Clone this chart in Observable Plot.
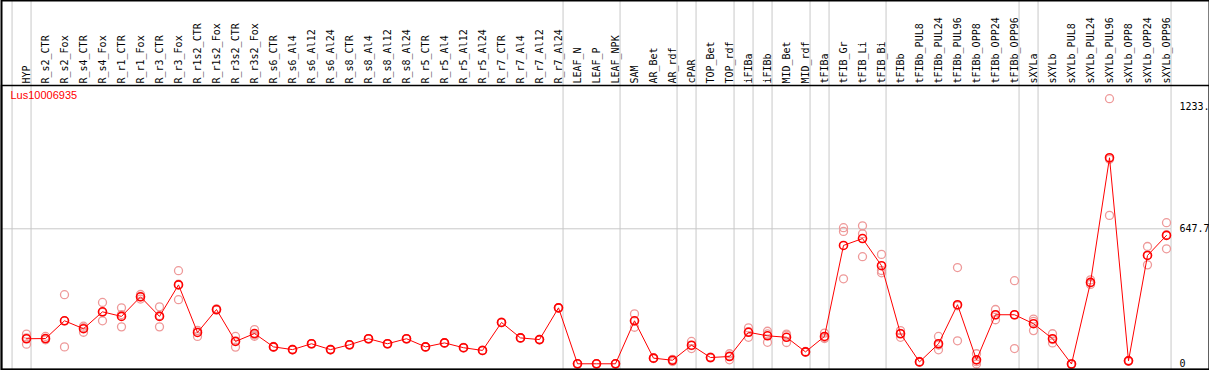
<!DOCTYPE html>
<html><head><meta charset="utf-8">
<script src="https://cdn.jsdelivr.net/npm/d3@7"></script>
<script src="https://cdn.jsdelivr.net/npm/@observablehq/plot@0.6"></script>
<style>body{margin:0;background:#fff}</style>
</head><body><div id="chart"></div>
<script>
const categories = ["HYP","R_s2_CTR","R_s2_Fox","R_s4_CTR","R_s4_Fox","R_r1_CTR","R_r1_Fox","R_r3_CTR","R_r3_Fox","R_r1s2_CTR","R_r1s2_Fox","R_r3s2_CTR","R_r3s2_Fox","R_s6_CTR","R_s6_Al4","R_s6_Al12","R_s6_Al24","R_s8_CTR","R_s8_Al4","R_s8_Al12","R_s8_Al24","R_r5_CTR","R_r5_Al4","R_r5_Al12","R_r5_Al24","R_r7_CTR","R_r7_Al4","R_r7_Al12","R_r7_Al24","LEAF_N","LEAF_P","LEAF_NPK","SAM","AR_Bet","AR_rdf","cPAR","TOP_Bet","TOP_rdf","iFIBa","iFIBb","MID_Bet","MID_rdf","tFIBa","tFIB_Gr","tFIB_Li","tFIB_Bi","tFIBb","tFIBb_PUL8","tFIBb_PUL24","tFIBb_PUL96","tFIBb_OPP8","tFIBb_OPP24","tFIBb_OPP96","sXYLa","sXYLb","sXYLb_PUL8","sXYLb_PUL24","sXYLb_PUL96","sXYLb_OPP8","sXYLb_OPP24","sXYLb_OPP96"];
const means = [121,122,207,169,250,228,322,228,379,151,261,108,146,82,69,97,69,92,121,97,121,82,101,78,65,199,125,117,269,1,1,1,207,28,18,90,31,36,152,135,128,58,132,568,601,471,145,10,97,284,20,236,236,193,121,0,391,988,15,520,616];
const rep1 = [143,132,332,181,295,269,333,274,447,160,261,132,165,84,70,98,70,93,122,98,122,83,102,79,66,200,126,118,270,1,1,1,240,30,12,108,33,49,173,157,143,60,148,653,662,525,160,12,132,462,49,261,399,215,145,0,403,1271,17,563,677];
const rep2 = [95,118,82,152,207,178,311,178,308,132,258,81,140,80,68,96,68,91,120,96,120,81,100,77,64,198,124,116,268,0,0,0,176,26,22,74,29,20,128,104,103,56,122,635,624,448,128,8,68,111,0,212,74,160,101,0,381,712,13,475,552];
const rep3 = [125,116,207,174,248,237,322,232,382,161,264,111,133,82,69,97,69,92,121,97,121,82,101,78,65,199,125,117,269,2,2,2,205,28,20,88,31,39,155,144,138,58,126,408,514,437,147,10,91,279,11,235,235,204,117,0,389,981,15,522,619];
const groupEnds = [0,1,29,32,35,36,38,39,40,42,43,46,53,54,61];
const yTicks = [0, 647.7, 1233.4];
const yTickLabels = ["0","647.7","1233."];
const geneId = "Lus10006935";

const idx = categories.map((c, i) => i + 1);
const meanRows = categories.map((c, i) => ({i: i + 1, v: means[i]}));
const repRows = [rep1, rep2, rep3].flatMap(r => r.map((v, i) => ({i: i + 1, v})));
const mono = "'DejaVu Sans Mono', monospace";

const chart = Plot.plot({
  width: 1209, height: 370,
  marginTop: 85, marginBottom: 1, marginLeft: 1, marginRight: 38,
  style: {fontFamily: mono, fontSize: "10px", background: "#fff", color: "#000"},
  x: {type: "linear", domain: [1, 61], range: [26, 1166]},
  y: {type: "linear", domain: [0, 647.7], range: [363.5, 228.3]},
  marks: [
    Plot.ruleY([647.7], {stroke: "#c8c8c8", strokeWidth: 1}),
    Plot.ruleX(groupEnds, {x: d => d + 0.24, stroke: "#c8c8c8", strokeWidth: 1, insetTop: -85}),
    Plot.axisX({anchor: "top", ticks: idx, tickRotate: -90, tickSize: 0, tickPadding: 2,
      tickFormat: i => categories[i - 1], label: null, fontFamily: mono, fontSize: 10, fill: "#000"}),
    Plot.axisY({anchor: "right", ticks: yTicks, tickSize: 0, tickPadding: 8,
      tickFormat: d => yTickLabels[yTicks.indexOf(d)], label: null, fontFamily: mono, fontSize: 10, fill: "#000"}),
    Plot.dot(repRows, {x: "i", y: "v", r: 4, stroke: "#ee9999", strokeWidth: 1.3, fill: "none"}),
    Plot.line(meanRows, {x: "i", y: "v", stroke: "red", strokeWidth: 1}),
    Plot.dot(meanRows, {x: "i", y: "v", r: 4, stroke: "red", strokeWidth: 1.6, fill: "none"}),
    Plot.text([geneId], {frameAnchor: "top-left", dx: 9, dy: 6, lineAnchor: "top", textAnchor: "start",
      fill: "red", fontFamily: "'Liberation Sans', Arial, sans-serif", fontSize: 11}),
    Plot.frame({insetRight: -38, stroke: "#000", strokeWidth: 1.5}),
    Plot.frame({insetTop: -85, insetRight: -38, stroke: "#000", strokeWidth: 2})
  ]
});
document.getElementById("chart").append(chart);
</script>
</body></html>
